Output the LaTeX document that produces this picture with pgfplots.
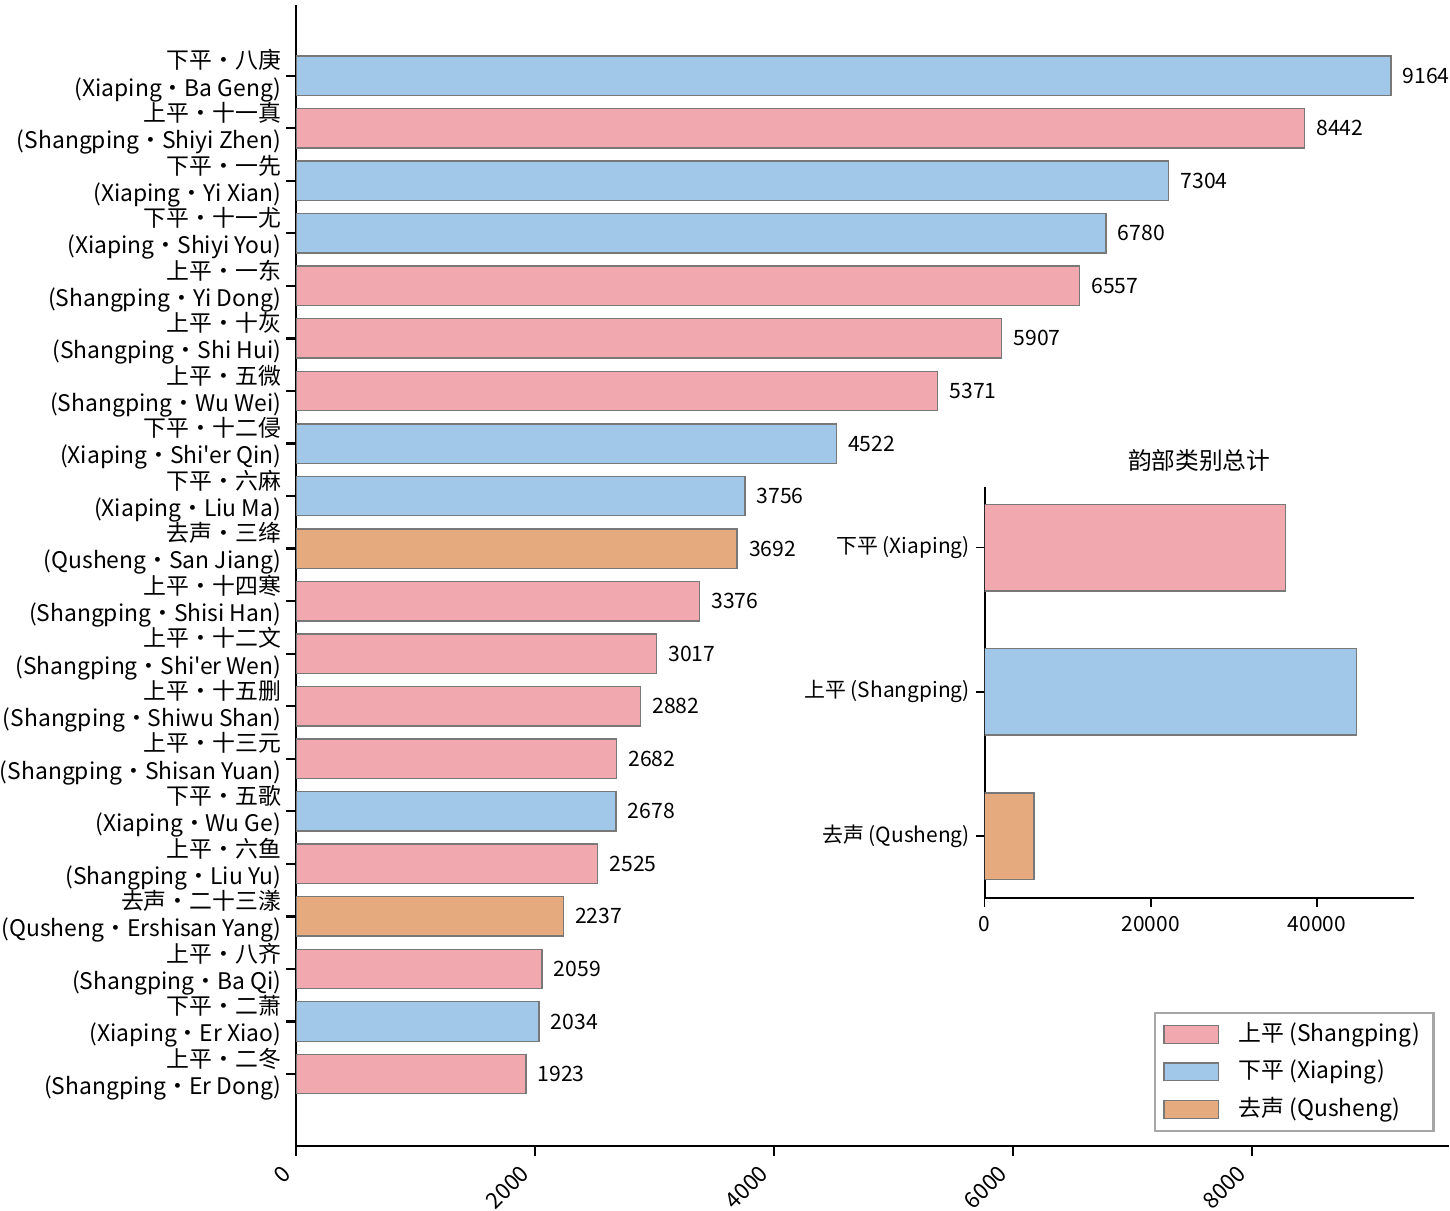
\documentclass[border=0pt]{standalone}
\usepackage{pgfplots}
\pgfplotsset{compat=1.18}
\usepackage{fontspec}
\setmainfont{Noto Sans CJK SC}[Ligatures=TeXOff]

\definecolor{shangping}{RGB}{241,168,175}
\definecolor{xiaping}{RGB}{161,200,232}
\definecolor{qusheng}{RGB}{230,170,127}
\definecolor{edgegray}{RGB}{120,120,120}

\begin{document}
\begin{tikzpicture}
\begin{axis}[
  width=413.6pt, height=409.3pt, scale only axis,
  xbar, bar width=0.75, bar shift=0pt,
  xmin=0, xmax=9650, ymin=-1.37, ymax=20.34,
  axis lines=left,
  axis line style={-, line width=0.8pt, black},
  tick align=outside,
  major tick length=3.6pt,
  tick style={black, line width=0.8pt},
  /pgf/number format/assume math mode=true,
  /pgf/number format/set thousands separator={},
  scaled ticks=false,
  xtick={0,2000,4000,6000,8000},
  xticklabel style={font=\fontsize{8}{9}\selectfont, inner sep=0pt,
    anchor=south east, xshift=-1.2pt, yshift=-7pt, rotate=45},
  ytick={0,...,19},
  yticklabels={
    {上平・二冬\\(Shangping・Er Dong)},
    {下平・二萧\\(Xiaping・Er Xiao)},
    {上平・八齐\\(Shangping・Ba Qi)},
    {去声・二十三漾\\(Qusheng・Ershisan Yang)},
    {上平・六鱼\\(Shangping・Liu Yu)},
    {下平・五歌\\(Xiaping・Wu Ge)},
    {上平・十三元\\(Shangping・Shisan Yuan)},
    {上平・十五删\\(Shangping・Shiwu Shan)},
    {上平・十二文\\(Shangping・Shi'er Wen)},
    {上平・十四寒\\(Shangping・Shisi Han)},
    {去声・三绛\\(Qusheng・San Jiang)},
    {下平・六麻\\(Xiaping・Liu Ma)},
    {下平・十二侵\\(Xiaping・Shi'er Qin)},
    {上平・五微\\(Shangping・Wu Wei)},
    {上平・十灰\\(Shangping・Shi Hui)},
    {上平・一东\\(Shangping・Yi Dong)},
    {下平・十一尤\\(Xiaping・Shiyi You)},
    {下平・一先\\(Xiaping・Yi Xian)},
    {上平・十一真\\(Shangping・Shiyi Zhen)},
    {下平・八庚\\(Xiaping・Ba Geng)}
  },
  yticklabel style={align=right, font=\fontsize{8.2}{9.7}\selectfont, inner sep=0pt, xshift=-1.6pt},
  nodes near coords,
  nodes near coords style={font=\fontsize{7.6}{9}\selectfont, black, inner sep=0pt, xshift=4pt},
  legend image code/.code={\draw[#1] (0pt,-3.2pt) rectangle (19.5pt,3.2pt);},
  legend style={at={(1,0)}, anchor=south east, xshift=-5pt, yshift=5pt,
    draw=gray!70, line width=0.9pt, font=\fontsize{8.2}{10}\selectfont,
    row sep=1.2pt, inner xsep=3pt, inner ysep=1.5pt},
  legend cell align=left,
]
\addplot[fill=shangping, draw=edgegray, line width=0.5pt] coordinates {
  (8442,18) (6557,15) (5907,14) (5371,13) (3376,9) (3017,8) (2882,7)
  (2682,6) (2525,4) (2059,2) (1923,0)};
\addlegendentry{\hspace*{5pt}上平 (Shangping)}
\addplot[fill=xiaping, draw=edgegray, line width=0.5pt] coordinates {
  (9164,19) (7304,17) (6780,16) (4522,12) (3756,11) (2678,5) (2034,1)};
\addlegendentry{\hspace*{5pt}下平 (Xiaping)}
\addplot[fill=qusheng, draw=edgegray, line width=0.5pt] coordinates {
  (3692,10) (2237,3)};
\addlegendentry{\hspace*{5pt}去声 (Qusheng)}
\end{axis}

\begin{axis}[
  at={(247pt,88.9pt)}, anchor=south west,
  width=154.1pt, height=147.6pt, scale only axis,
  xbar, bar width=0.6, bar shift=0pt,
  xmin=0, xmax=51700, ymin=-0.43, ymax=2.42,
  axis lines=left,
  axis line style={-, line width=0.7pt, black},
  tick align=outside,
  major tick length=3pt,
  tick style={black, line width=0.6pt},
  /pgf/number format/assume math mode=true,
  /pgf/number format/set thousands separator={},
  scaled ticks=false,
  xtick={0,20000,40000},
  xticklabel style={font=\fontsize{7.5}{9}\selectfont},
  ytick={0,1,2},
  yticklabels={去声 (Qusheng), 上平 (Shangping), 下平 (Xiaping)},
  yticklabel style={font=\fontsize{7.5}{9}\selectfont, inner sep=2pt},
  title={韵部类别总计},
  title style={font=\fontsize{8.5}{10}\selectfont, yshift=-4pt},
]
\addplot[fill=shangping, draw=edgegray, line width=0.5pt] coordinates {(36238,2)};
\addplot[fill=xiaping, draw=edgegray, line width=0.5pt] coordinates {(44741,1)};
\addplot[fill=qusheng, draw=edgegray, line width=0.5pt] coordinates {(5929,0)};
\end{axis}
% a little white room above the axis, as in the reference
\path (0pt,411.2pt);
\end{tikzpicture}
\end{document}
